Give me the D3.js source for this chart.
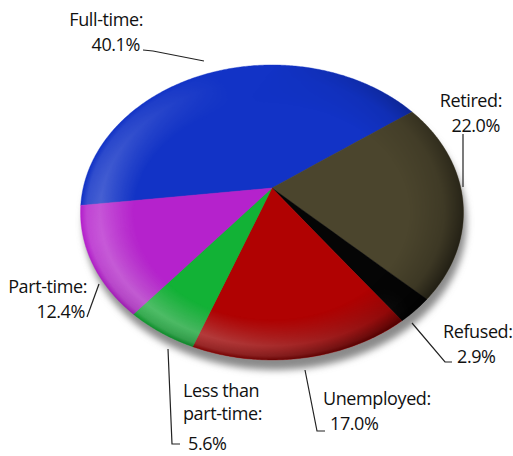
<!DOCTYPE html>
<html>
<head>
<meta charset="utf-8">
<script src="https://cdn.jsdelivr.net/npm/d3@7/dist/d3.min.js"></script>
<style>
  html, body { margin: 0; padding: 0; background: #fff; }
  svg { display: block; }
  text { font-family: "Open Sans", "DejaVu Sans", sans-serif; font-size: 18px; letter-spacing: -0.4px; fill: #111; }
</style>
</head>
<body>
<svg id="chart" width="513" height="456"></svg>
<script>
// Employment status shares (percent)
const categories = ["Full-time", "Retired", "Refused", "Unemployed", "Less than part-time", "Part-time"];
const values = [40.1, 22.0, 2.9, 17.0, 5.6, 12.4];
const valueLabels = ["40.1%", "22.0%", "2.9%", "17.0%", "5.6%", "12.4%"];
const nameLines = [["Full-time:"], ["Retired:"], ["Refused:"], ["Unemployed:"], ["Less than", "part-time:"], ["Part-time:"]];
const sliceColors = ["#1233c6", "#4b452d", "#050505", "#b00202", "#12b236", "#b522cc"];

// Label placement: text anchor point, alignment, and leader polyline
const labelLayout = [
  { x: 143, y: 26, anchor: "end", lastDx: -3, leader: [[143, 50], [153, 51], [204, 61]] },
  { x: 502, y: 107, anchor: "end", lastDx: -2, leader: [[463, 134], [463, 187]] },
  { x: 443, y: 338, anchor: "start", lastDx: 14, leader: [[412, 323], [445, 362], [452, 362]] },
  { x: 323, y: 405, anchor: "start", lastDx: 7, leader: [[305, 370], [317, 431], [325, 431]] },
  { x: 183, y: 397, anchor: "start", lastDx: 5, leader: [[168, 349], [172, 444], [180, 444]] },
  { x: 87, y: 293, anchor: "end", lastDx: -2, leader: [[87, 317], [99, 284]] }
];

const svg = d3.select("#chart");
const defs = svg.append("defs");

// Tilted, slightly raised disk: perspective mapping of unit-disk coordinates,
// with the centre lifted so the surface reads as a shallow cone.
const cx = 272, cy = 197.7, A = 190.5, B = 146, k = 0.1, lift = 9.7;
function project(r, angle) {
  const u = r * Math.sin(angle), v = -r * Math.cos(angle);
  const w = 1 - k * v;
  return [cx + A * u / w, cy + B * v / w - lift * (1 - r)];
}

const color = d3.scaleOrdinal().domain(categories).range(sliceColors);
const start = 267 * Math.PI / 180;
const pie = d3.pie().sort(null).startAngle(start).endAngle(start + 2 * Math.PI);
const arcs = pie(values);

const line = d3.line().curve(d3.curveLinearClosed);
function slicePath(a) {
  const n = Math.max(8, Math.ceil((a.endAngle - a.startAngle) / 0.01));
  const pts = [];
  // radial edge out, along the rim, radial edge back to the centre
  for (let i = 0; i <= 10; i++) pts.push(project(i / 10, a.startAngle));
  for (let i = 0; i <= n; i++) pts.push(project(1, a.startAngle + (a.endAngle - a.startAngle) * i / n));
  for (let i = 10; i >= 0; i--) pts.push(project(i / 10, a.endAngle));
  return line(pts);
}
function rimPoints() {
  const pts = [];
  for (let i = 0; i < 720; i++) pts.push(project(1, i / 720 * 2 * Math.PI));
  return pts;
}
const diskPath = line(rimPoints());

// Drop shadow beneath the disk
const blur = defs.append("filter").attr("id", "shadowBlur")
  .attr("x", "-20%").attr("y", "-20%").attr("width", "140%").attr("height", "140%");
blur.append("feGaussianBlur").attr("stdDeviation", 3.5);
svg.append("path").attr("d", diskPath)
  .attr("transform", "translate(3,10)")
  .attr("fill", "#8a8a8a").attr("filter", "url(#shadowBlur)");

// Clip for the shading overlays
defs.append("clipPath").attr("id", "diskClip").append("path").attr("d", diskPath);

// Slices
svg.append("g").selectAll("path").data(arcs).join("path")
  .attr("d", slicePath)
  .attr("fill", (d, i) => color(categories[i]))
  .attr("stroke", (d, i) => color(categories[i])).attr("stroke-width", 0.4);

// Shading: ring-shaped gradients around the rim
const ecx = 272, ecy = 212.5, erx = 191, ery = 148;
const ringDark = defs.append("radialGradient").attr("id", "ringDark")
  .attr("gradientUnits", "userSpaceOnUse").attr("cx", 0).attr("cy", 0).attr("r", 1)
  .attr("gradientTransform", `translate(${ecx},${ecy}) scale(${erx},${ery})`);
[[0, 0], [0.72, 0], [0.9, 0.22], [1, 0.6]].forEach(([o, a]) =>
  ringDark.append("stop").attr("offset", o).attr("stop-color", "#000").attr("stop-opacity", a));

const ringLight = defs.append("radialGradient").attr("id", "ringLight")
  .attr("gradientUnits", "userSpaceOnUse").attr("cx", 0).attr("cy", 0).attr("r", 1)
  .attr("gradientTransform", `translate(${ecx},${ecy}) scale(${erx},${ery})`);
[[0, 0], [0.72, 0], [0.9, 0.32], [0.97, 0.2], [1, 0]].forEach(([o, a]) =>
  ringLight.append("stop").attr("offset", o).attr("stop-color", "#fff").attr("stop-opacity", a));

// Directional masks: light from lower left, shade toward the lower right
const dirLight = defs.append("linearGradient").attr("id", "dirLight")
  .attr("gradientUnits", "userSpaceOnUse").attr("x1", 110).attr("y1", 330).attr("x2", 300).attr("y2", 170);
dirLight.append("stop").attr("offset", 0).attr("stop-color", "#fff");
dirLight.append("stop").attr("offset", 1).attr("stop-color", "#000");
defs.append("mask").attr("id", "lightMask").append("rect")
  .attr("width", 513).attr("height", 456).attr("fill", "url(#dirLight)");

const dirDark = defs.append("linearGradient").attr("id", "dirDark")
  .attr("gradientUnits", "userSpaceOnUse").attr("x1", 220).attr("y1", 120).attr("x2", 430).attr("y2", 330);
dirDark.append("stop").attr("offset", 0).attr("stop-color", "#000");
dirDark.append("stop").attr("offset", 1).attr("stop-color", "#fff");
defs.append("mask").attr("id", "darkMask").append("rect")
  .attr("width", 513).attr("height", 456).attr("fill", "url(#dirDark)");

const shade = svg.append("g").attr("clip-path", "url(#diskClip)");
shade.append("rect").attr("width", 513).attr("height", 456)
  .attr("fill", "url(#ringDark)").attr("mask", "url(#darkMask)");
shade.append("rect").attr("width", 513).attr("height", 456)
  .attr("fill", "url(#ringLight)").attr("mask", "url(#lightMask)");

// Labels with leader lines
const labels = svg.append("g");
categories.forEach((c, i) => {
  const L = labelLayout[i];
  const lines = nameLines[i].concat([valueLabels[i]]);
  lines.forEach((t, j) => {
    const last = j === lines.length - 1;
    labels.append("text")
      .attr("x", L.x + (last ? L.lastDx : 0))
      .attr("y", L.y + j * (last && lines.length === 3 ? 26.5 : (last ? 25 : 23)))
      .attr("text-anchor", L.anchor)
      .text(t);
  });
  labels.append("path")
    .attr("d", d3.line()(L.leader))
    .attr("fill", "none").attr("stroke", "#222").attr("stroke-width", 1.2);
});
</script>
</body>
</html>
